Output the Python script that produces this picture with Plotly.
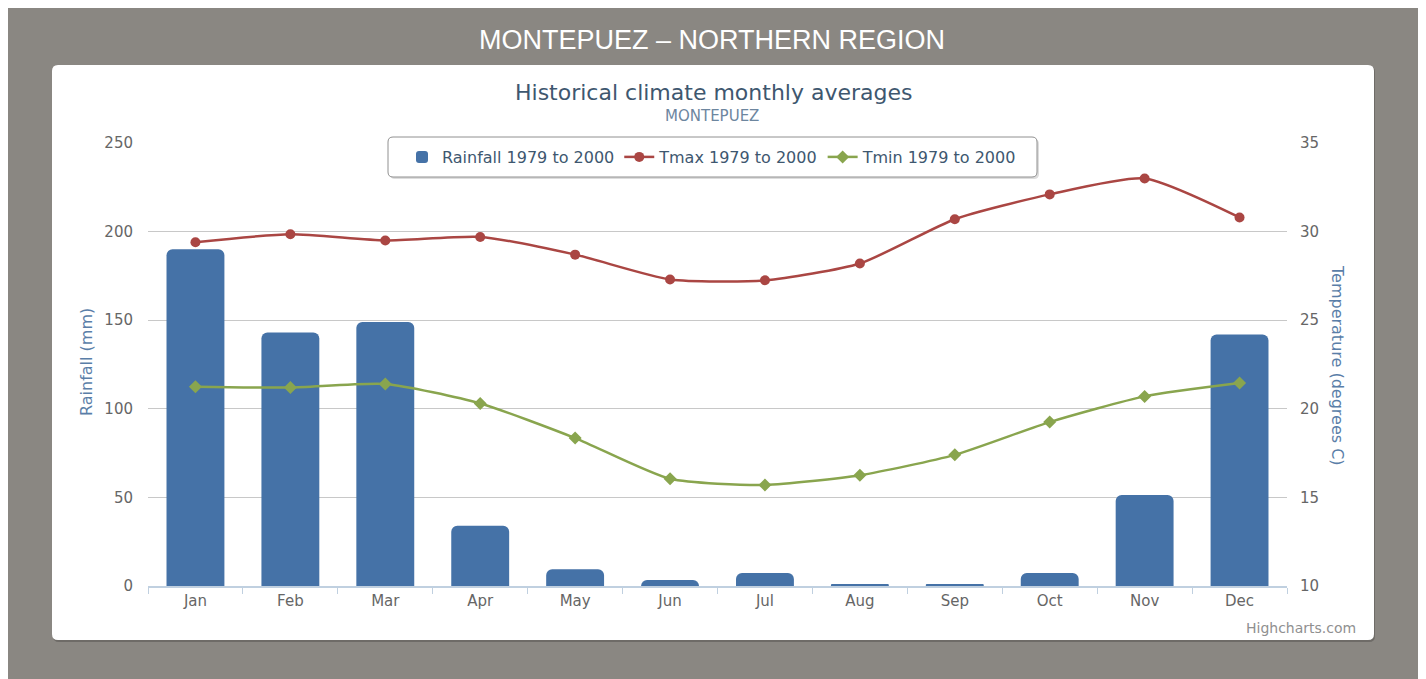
import plotly.graph_objects as go

months = ['Jan', 'Feb', 'Mar', 'Apr', 'May', 'Jun', 'Jul', 'Aug', 'Sep', 'Oct', 'Nov', 'Dec']
rainfall = [190, 143, 149, 34, 9.5, 3.4, 7.3, 1, 1, 7.3, 51.4, 142]
tmax = [29.4, 29.85, 29.5, 29.7, 28.7, 27.3, 27.25, 28.2, 30.7, 32.1, 33.0, 30.8]
tmin = [21.25, 21.2, 21.4, 20.3, 18.35, 16.05, 15.7, 16.25, 17.4, 19.25, 20.7, 21.45]

# page body margin pushes the figure 8px right/down
OFF = 8
W, H = 1426 - OFF, 679 - OFF
PL, PR, PT, PB = 148, 1287, 143, 586  # plot area in screen pixels


def px(x):
    return (x - PL) / (PR - PL)


def py(y):
    return (PB - y) / (PB - PT)


def rounded_rect(x0, y0, x1, y1, r):
    pts = [
        f"M {px(x0 + r)},{py(y0)}",
        f"L {px(x1 - r)},{py(y0)}",
        f"Q {px(x1)},{py(y0)} {px(x1)},{py(y0 + r)}",
        f"L {px(x1)},{py(y1 - r)}",
        f"Q {px(x1)},{py(y1)} {px(x1 - r)},{py(y1)}",
        f"L {px(x0 + r)},{py(y1)}",
        f"Q {px(x0)},{py(y1)} {px(x0)},{py(y1 - r)}",
        f"L {px(x0)},{py(y0 + r)}",
        f"Q {px(x0)},{py(y0)} {px(x0 + r)},{py(y0)}",
        "Z",
    ]
    return " ".join(pts)


FONT = "DejaVu Sans"

fig = go.Figure()
fig.add_trace(go.Bar(
    x=months, y=rainfall, name='Rainfall 1979 to 2000',
    marker=dict(color='#4572A7', line=dict(width=0)),
    yaxis='y',
))
fig.add_trace(go.Scatter(
    x=months, y=tmax, name='Tmax 1979 to 2000', mode='lines+markers',
    line=dict(color='#AA4643', width=2.5, shape='spline', smoothing=0.6),
    marker=dict(symbol='circle', size=10, color='#AA4643'),
    yaxis='y2',
))
fig.add_trace(go.Scatter(
    x=months, y=tmin, name='Tmin 1979 to 2000', mode='lines+markers',
    line=dict(color='#89A54E', width=2.5, shape='spline', smoothing=0.6),
    marker=dict(symbol='diamond', size=10, color='#89A54E'),
    yaxis='y2',
))

shapes = [
    # card shadow + card
    dict(type='path', xref='paper', yref='paper', layer='below',
         path=rounded_rect(53, 66, 1375, 642, 6),
         fillcolor='#6e6b67', line=dict(width=0)),
    dict(type='path', xref='paper', yref='paper', layer='below',
         path=rounded_rect(52, 65, 1374, 640, 6),
         fillcolor='white', line=dict(width=0)),
    # legend box shadow + box
    dict(type='path', xref='paper', yref='paper', layer='below',
         path=rounded_rect(390, 139, 1039, 179, 5),
         fillcolor='#dddddd', line=dict(width=0)),
    dict(type='path', xref='paper', yref='paper', layer='below',
         path=rounded_rect(388, 137, 1037, 177, 5),
         fillcolor='white', line=dict(width=1, color='#909090')),
]

annotations = [
    dict(text='MONTEPUEZ – NORTHERN REGION', x=px(712), y=py(40), xref='paper', yref='paper',
         showarrow=False, xanchor='center', yanchor='middle',
         font=dict(family='Liberation Sans', size=27, color='white')),
    dict(text='Historical climate monthly averages', x=px(713), y=py(93), xref='paper', yref='paper',
         showarrow=False, xanchor='center', yanchor='middle',
         font=dict(family=FONT, size=22, color='#3E576F')),
    dict(text='MONTEPUEZ', x=px(712), y=py(116), xref='paper', yref='paper',
         showarrow=False, xanchor='center', yanchor='middle',
         font=dict(family=FONT, size=15, color='#6D869F')),
    dict(text='Rainfall (mm)', x=px(86), y=py(362), xref='paper', yref='paper',
         showarrow=False, xanchor='center', yanchor='middle', textangle=-90,
         font=dict(family=FONT, size=16, color='#5a7ea8')),
    dict(text='Temperature (degrees C)', x=px(1338), y=py(365), xref='paper', yref='paper',
         showarrow=False, xanchor='center', yanchor='middle', textangle=90,
         font=dict(family=FONT, size=16, color='#5a7ea8')),
    dict(text='Highcharts.com', x=px(1358), y=py(628), xref='paper', yref='paper',
         showarrow=False, xanchor='right', yanchor='middle',
         font=dict(family=FONT, size=14, color='#909090')),
]

fig.update_layout(
    width=W, height=H,
    margin=dict(l=PL - OFF, r=W - (PR - OFF), t=PT - OFF, b=H - (PB - OFF), pad=0),
    paper_bgcolor='#8a8782', plot_bgcolor='rgba(0,0,0,0)',
    font=dict(family=FONT, size=15, color='#666666'),
    bargap=0.39, barcornerradius=6,
    showlegend=True,
    legend=dict(
        orientation='h', x=px(712), y=py(157), xanchor='center', yanchor='middle',
        bgcolor='rgba(0,0,0,0)', borderwidth=0,
        font=dict(family=FONT, size=16, color='#3E576F'),
    ),
    xaxis=dict(
        categoryorder='array', categoryarray=months, range=[-0.5, 11.5],
        showline=True, linecolor='#C0D0E0', linewidth=1.5,
        ticks='outside', tickson='boundaries', ticklen=6, tickcolor='#C0D0E0',
        showgrid=False, tickfont=dict(size=15, color='#666666'),
    ),
    yaxis=dict(
        range=[0, 250], dtick=50, showgrid=True, gridcolor='#C8C8C8', gridwidth=1,
        zeroline=False, ticks='', ticklabelstandoff=14,
        tickfont=dict(size=15, color='#666666'),
    ),
    yaxis2=dict(
        range=[10, 35], dtick=5, overlaying='y', side='right', showgrid=False,
        zeroline=False, ticks='', ticklabelstandoff=12,
        tickfont=dict(size=15, color='#666666'),
    ),
    shapes=shapes,
    annotations=annotations,
)

fig.write_html("out.html")
